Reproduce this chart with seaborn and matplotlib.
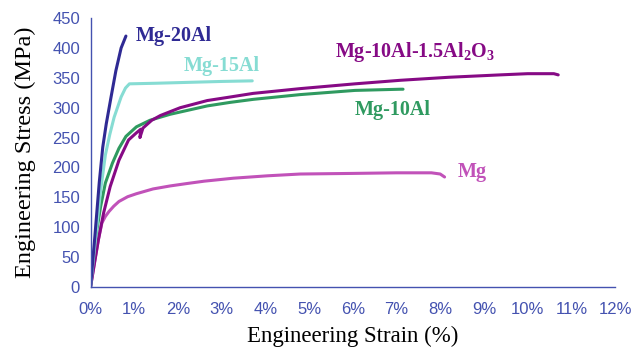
import matplotlib
matplotlib.use("Agg")
import matplotlib.pyplot as plt
import seaborn as sns
import pandas as pd

# strain (%) / stress (MPa)
mg_strain = [0, 0.1, 0.18, 0.26, 0.34, 0.42, 0.53, 0.65, 0.85, 1.05, 1.43, 1.82, 2.2, 2.6, 3.27, 4.05, 4.8, 6.0, 7.0, 7.8, 8.0, 8.1]
mg_stress = [0, 45, 79, 107, 118, 126, 135, 143, 151, 156, 164, 169, 173, 177, 182, 186, 189, 190, 191, 191, 189, 184]

al10_strain = [0, 0.11, 0.23, 0.34, 0.5, 0.65, 0.81, 1.05, 1.36, 1.82, 2.67, 3.2, 3.72, 4.8, 6.05, 7.1, 7.15]
al10_stress = [0, 79, 134, 174, 207, 232, 252, 268, 279, 289, 303, 309, 314, 322, 329, 331, 331]

ox_strain = [0, 0.18, 0.3, 0.45, 0.65, 0.87, 1.05, 1.15, 1.13, 1.2, 1.4, 1.6, 2.05, 2.67, 3.2, 3.72, 4.8, 6.05, 7.1, 8.2, 9.37, 10.0, 10.6, 10.7]
ox_stress = [0, 79, 124, 168, 212, 246, 258, 264, 250, 266, 279, 287, 300, 312, 318, 324, 332, 340, 346, 351, 355, 357, 357, 355]

al15_strain = [0, 0.1, 0.23, 0.34, 0.44, 0.54, 0.7, 0.8, 0.89, 1.5, 2.5, 3.0, 3.7]
al15_stress = [0, 70, 161, 221, 255, 284, 318, 333, 340, 341, 343, 344, 345]

al20_strain = [0, 0.1, 0.2, 0.28, 0.36, 0.47, 0.58, 0.7, 0.81]
al20_stress = [0, 85, 175, 234, 273, 318, 362, 400, 420]

series = ["Mg", "Mg-10Al", "Mg-10Al-1.5Al2O3", "Mg-15Al", "Mg-20Al"]
colors = ["#c152b9", "#2f9a60", "#860a85", "#86dcd3", "#2f2a94"]

frames = []
for name, xs, ys in zip(series,
                        [mg_strain, al10_strain, ox_strain, al15_strain, al20_strain],
                        [mg_stress, al10_stress, ox_stress, al15_stress, al20_stress]):
    frames.append(pd.DataFrame({"strain": xs, "stress": ys, "alloy": name}))
df = pd.concat(frames, ignore_index=True)

sns.set_style("white")
plt.rcParams["mathtext.fontset"] = "custom"
plt.rcParams["mathtext.rm"] = "Liberation Serif"
plt.rcParams["mathtext.bf"] = "Liberation Serif:bold"

fig = plt.figure(figsize=(6.42, 3.49), dpi=100)
ax = fig.add_axes([0.141, 0.178, 0.817, 0.770])

sns.lineplot(data=df, x="strain", y="stress", hue="alloy", palette=dict(zip(series, colors)),
             sort=False, estimator=None, linewidth=2.2, legend=False, ax=ax)
for ln in ax.lines:
    ln.set_solid_joinstyle("round")
    ln.set_solid_capstyle("round")

axis_col = "#4452b0"
ax.set_xlim(0, 12)
ax.set_ylim(0, 450)
ax.set_xticks(range(0, 13))
ax.set_xticklabels([f"{i}%" for i in range(0, 13)])
ax.set_yticks(range(0, 451, 50))
for s in ["top", "right"]:
    ax.spines[s].set_visible(False)
for s in ["left", "bottom"]:
    ax.spines[s].set_color(axis_col)
    ax.spines[s].set_linewidth(1.0)
ax.tick_params(axis="both", colors=axis_col, labelcolor=axis_col, direction="out",
               length=4, width=1, labelsize=12)
ax.tick_params(axis="x", pad=7)
for lab in ax.get_xticklabels() + ax.get_yticklabels():
    lab.set_family("Liberation Sans")

ax.set_xlabel("Engineering Strain (%)", family="Liberation Serif", fontsize=16.5, color="black", labelpad=6)
ax.set_ylabel("Engineering Stress (MPa)", family="Liberation Serif", fontsize=17.5, color="black", labelpad=12)

lab_kw = dict(family="Liberation Serif", fontsize=14.5, fontweight="bold")
ax.text(1.03, 420, "Mg-20Al", color=colors[4], va="center", **lab_kw)
ax.text(2.13, 370, "Mg-15Al", color=colors[3], va="center", **lab_kw)
ax.text(5.6, 393, "Mg-10Al-1.5Al$_\\mathbf{2}$O$_\\mathbf{3}$", color=colors[2], va="center", **lab_kw)
ax.text(6.05, 296, "Mg-10Al", color=colors[1], va="center", **lab_kw)
ax.text(8.4, 192, "Mg", color=colors[0], va="center", **lab_kw)

fig.savefig("out.png", dpi=100)
